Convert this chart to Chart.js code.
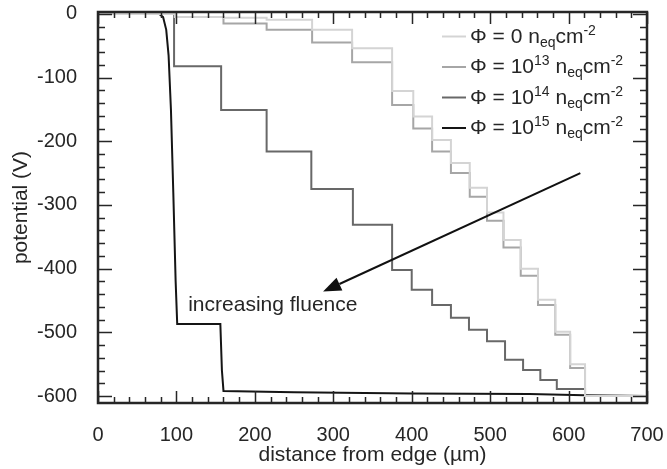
<!DOCTYPE html>
<html lang="en">
<head>
  <meta charset="UTF-8" />
  <title>potential vs distance</title>
  <script src="https://cdn.jsdelivr.net/npm/chart.js"></script>
  <style>
    body { margin: 0; background: #fff; }
    #wrap { width: 667px; height: 469px; }
  </style>
</head>
<body>
  <div id="wrap"><canvas id="chartPot" width="667" height="469"></canvas></div>

  <script>
    // step edges (µm) and potential levels (V), one level per edge
    const stepX13 = [0, 98, 160, 215, 273, 324, 375, 402, 426, 450, 474, 496, 517, 539, 561, 583, 602, 621, 700];
    const potPhi0 = [0, -5, -6, -9, -25, -54, -121, -161, -198, -234, -273, -312, -355, -400, -449, -499, -550, -600, -600];
    const potPhi13 = [0, -5, -15, -25, -45, -76, -143, -180, -216, -250, -287, -325, -367, -411, -457, -504, -556, -600, -600];

    const stepX14 = [0, 97, 157, 215, 272, 325, 375, 400, 426, 450, 473, 496, 519, 542, 564, 585, 621, 700];
    const potPhi14 = [0, -82, -151, -216, -275, -331, -402, -433, -457, -477, -496, -514, -543, -559, -575, -589, -600, -600];

    const distPhi15 = [0, 78, 83, 87, 90, 93, 96, 99, 101, 156, 158, 160, 250, 400, 550, 620, 700];
    const potPhi15 = [0, 0, -5, -25, -65, -150, -280, -420, -487, -487, -560, -592, -594, -596, -597, -599, -600];

    const seriesNames = ["0", "10", "10", "10"];
    const seriesExp = ["", "13", "14", "15"];
    const seriesColors = ["#d4d4d4", "#a6a6a6", "#686868", "#151515"];

    const xTickLabels = [0, 100, 200, 300, 400, 500, 600, 700];
    const yTickLabels = [0, -100, -200, -300, -400, -500, -600];

    const arrowFrom = { x: 615, y: -250 };
    const arrowTo = { x: 287, y: -436 };
    const noteText = "increasing fluence";
    const notePos = { x: 115, y: -457 };

    const FONT = "'Liberation Sans', Arial, sans-serif";
    const INK = "#262626";

    function pts(xs, ys) {
      return xs.map((x, i) => ({ x: x, y: ys[i] }));
    }

    // frame + inward ticks on all 4 sides, arrow and note
    const framePlugin = {
      id: "frame",
      afterDatasetsDraw(chart) {
        const { ctx, chartArea: a, scales } = chart;
        const xs = scales.x, ys = scales.y;
        ctx.save();
        ctx.strokeStyle = INK;
        ctx.lineWidth = 1.5;
        for (let v = 0; v <= 700; v += 20) {
          const px = Math.round(xs.getPixelForValue(v)) + 0.5;
          const len = v % 100 === 0 ? 12 : 6;
          ctx.beginPath();
          ctx.moveTo(px, a.bottom); ctx.lineTo(px, a.bottom - len);
          ctx.moveTo(px, a.top); ctx.lineTo(px, a.top + len);
          ctx.stroke();
        }
        for (let v = -600; v <= 0; v += 20) {
          const py = Math.round(ys.getPixelForValue(v)) + 0.5;
          const len = v % 100 === 0 ? 14 : 7;
          ctx.beginPath();
          ctx.moveTo(a.left, py); ctx.lineTo(a.left + len, py);
          ctx.moveTo(a.right, py); ctx.lineTo(a.right - len, py);
          ctx.stroke();
        }
        ctx.lineWidth = 2.5;
        ctx.strokeRect(a.left, a.top, a.right - a.left, a.bottom - a.top);

        const x0 = xs.getPixelForValue(arrowFrom.x), y0 = ys.getPixelForValue(arrowFrom.y);
        const x1 = xs.getPixelForValue(arrowTo.x), y1 = ys.getPixelForValue(arrowTo.y);
        const ang = Math.atan2(y1 - y0, x1 - x0);
        const hl = 18, hw = 7;
        const bx = x1 - hl * Math.cos(ang), by = y1 - hl * Math.sin(ang);
        ctx.strokeStyle = "#111";
        ctx.lineWidth = 2;
        ctx.beginPath();
        ctx.moveTo(x0, y0); ctx.lineTo(bx, by);
        ctx.stroke();
        ctx.fillStyle = "#111";
        ctx.beginPath();
        ctx.moveTo(x1, y1);
        ctx.lineTo(bx + hw * Math.sin(ang), by - hw * Math.cos(ang));
        ctx.lineTo(bx - hw * Math.sin(ang), by + hw * Math.cos(ang));
        ctx.closePath();
        ctx.fill();

        ctx.fillStyle = INK;
        ctx.font = "21px " + FONT;
        ctx.textBaseline = "middle";
        ctx.textAlign = "left";
        ctx.fillText(noteText, xs.getPixelForValue(notePos.x), ys.getPixelForValue(notePos.y));
        ctx.restore();
      }
    };

    // legend with super/subscripts
    const legendPlugin = {
      id: "phiLegend",
      afterDraw(chart) {
        const ctx = chart.ctx;
        const big = "21px " + FONT, small = "14px " + FONT;
        ctx.save();
        ctx.textBaseline = "alphabetic";
        ctx.textAlign = "left";
        ctx.fillStyle = INK;
        seriesNames.forEach((name, i) => {
          const yMid = 36.5 + i * 30.5;
          const base = yMid + 6;
          ctx.strokeStyle = seriesColors[i];
          ctx.lineWidth = 2;
          ctx.beginPath();
          ctx.moveTo(442, yMid); ctx.lineTo(466, yMid);
          ctx.stroke();
          let x = 470;
          const put = (t, f, dy) => {
            ctx.font = f;
            ctx.fillText(t, x, base + dy);
            x += ctx.measureText(t).width;
          };
          put("\u03A6 = " + name, big, 0);
          if (seriesExp[i]) put(seriesExp[i], small, -8);
          put(" n", big, 0);
          put("eq", small, 4);
          put("cm", big, 0);
          put("-2", small, -8);
        });
        ctx.restore();
      }
    };

    new Chart(document.getElementById("chartPot"), {
      type: "line",
      data: {
        datasets: [
          { label: "phi0", data: pts(stepX13, potPhi0), borderColor: seriesColors[0], stepped: true },
          { label: "phi13", data: pts(stepX13, potPhi13), borderColor: seriesColors[1], stepped: true },
          { label: "phi14", data: pts(stepX14, potPhi14), borderColor: seriesColors[2], stepped: true },
          { label: "phi15", data: pts(distPhi15, potPhi15), borderColor: seriesColors[3], tension: 0 }
        ]
      },
      options: {
        responsive: false,
        animation: false,
        elements: { point: { radius: 0 }, line: { borderWidth: 2 } },
        layout: { padding: { top: 12, right: 20, left: 0, bottom: 0 } },
        plugins: { legend: { display: false }, tooltip: { enabled: false } },
        scales: {
          x: {
            type: "linear",
            min: 0, max: 700,
            grid: { display: false },
            border: { display: false },
            afterFit: s => { s.height = 66; s.paddingLeft = 0; s.paddingRight = 0; },
            afterBuildTicks: s => { s.ticks = xTickLabels.map(v => ({ value: v })); },
            ticks: { font: { size: 20, family: FONT }, color: INK, padding: 12, maxRotation: 0 },
            title: { display: true, text: "distance from edge (\u00B5m)", font: { size: 21, family: FONT }, color: INK, padding: { top: 0, bottom: 1 } }
          },
          y: {
            min: -611, max: 3,
            grid: { display: false },
            border: { display: false },
            afterFit: s => { s.width = 98; s.paddingTop = 0; s.paddingBottom = 0; },
            afterBuildTicks: s => { s.ticks = yTickLabels.map(v => ({ value: v })); },
            ticks: { font: { size: 20, family: FONT }, color: INK, padding: 13 },
            title: { display: true, text: "potential (V)", font: { size: 21, family: FONT }, color: INK, padding: { top: 9, bottom: 0 } }
          }
        }
      },
      plugins: [framePlugin, legendPlugin]
    });
  </script>
</body>
</html>
